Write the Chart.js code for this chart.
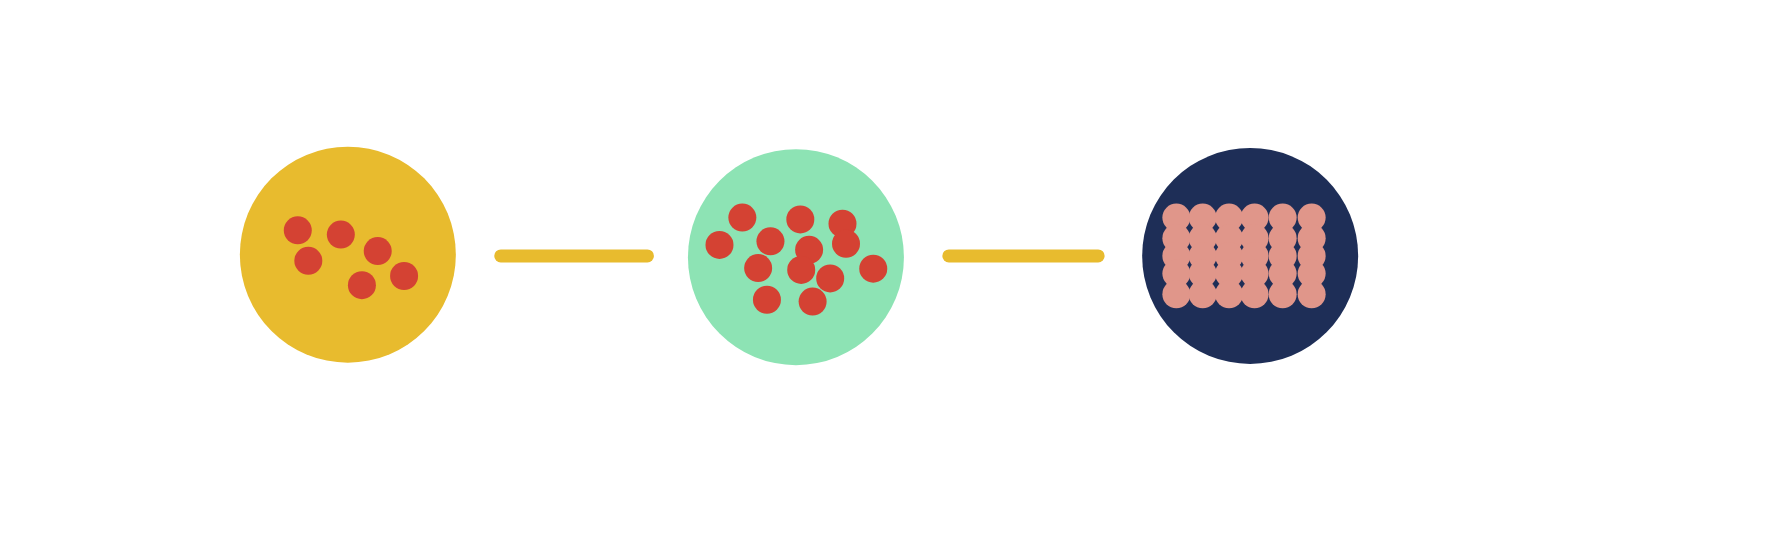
<!DOCTYPE html>
<html><head><meta charset="utf-8">
<script src="https://cdn.jsdelivr.net/npm/chart.js@4"></script>
<style>html,body{margin:0;padding:0;background:#fff;}canvas{display:block;}</style>
</head><body>
<canvas id="c" width="1779" height="552"></canvas>
<script>
const bigCircles = [{x:273,y:241,r:108},{x:783,y:245,r:108},{x:1300,y:243,r:108}];
const bigColors = ['#E8BB2E','#8DE3B4','#1E2E57'];
const line1 = [{x:447,y:243},{x:614,y:243}];
const line2 = [{x:957,y:243},{x:1127,y:243}];
const dots1 = [[216,201],[265,208],[307,235],[228,251],[337,276],[289,291]];
const dots2 = [[722,180],[788,183],[836,190],[696,225],[754,219],[798,233],[840,223],[740,263],[789,266],[822,280],[871,264],[750,315],[802,318]];
const gridX = [1216,1246,1276,1305,1337,1370];
const gridY = [180,214,243,272,306];
const dots3 = [];
gridY.forEach(y=>gridX.forEach(x=>dots3.push([x,y])));
const toPts = a => a.map(([x,y])=>({x,y,r:14}));
const rad = c => c.raw.r;
new Chart(document.getElementById('c'),{
  type:'scatter',
  data:{datasets:[
    {data:bigCircles,backgroundColor:bigColors,borderWidth:0,pointRadius:rad,pointHoverRadius:rad,order:3},
    {type:'line',data:line1,borderColor:'#E8BB2E',borderWidth:13,borderCapStyle:'round',pointRadius:0,order:2},
    {type:'line',data:line2,borderColor:'#E8BB2E',borderWidth:13,borderCapStyle:'round',pointRadius:0,order:2},
    {data:toPts(dots1),backgroundColor:'#D44233',borderWidth:0,pointRadius:rad,pointHoverRadius:rad,order:1},
    {data:toPts(dots2),backgroundColor:'#D44233',borderWidth:0,pointRadius:rad,pointHoverRadius:rad,order:1},
    {data:toPts(dots3),backgroundColor:'#E0968A',borderWidth:0,pointRadius:rad,pointHoverRadius:rad,order:0}
  ]},
  options:{responsive:false,animation:false,layout:{padding:0},clip:false,
    plugins:{legend:{display:false},tooltip:{enabled:false}},
    scales:{x:{type:'linear',min:0,max:1779,display:false},
            y:{type:'linear',min:0,max:552,reverse:true,display:false}}}
});
</script>
</body></html>
